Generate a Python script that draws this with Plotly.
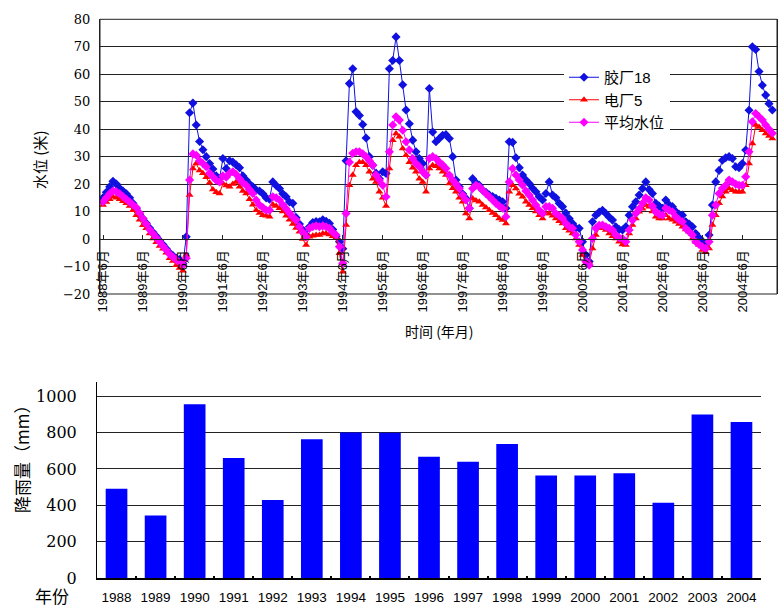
import plotly.graph_objects as go

W, H = 779, 608

# ---------------- data ----------------
# monthly water levels starting 1988-06 (index 0)
jiaochang18 = [
    15.0, 17, 19, 21, 20, 18.5, 17.5, 16.5, 15, 13, 11, 9,
    7.5, 5.8, 4, 2.5, 1, -0.5, -2, -3.5, -5, -6, -7, -7.5,
    -9, 0.8, 46, 49.5, 41.5, 35.5, 32.5, 30, 27.5, 25.5, 23, 22,
    29.3, 25.7, 28.5, 28, 27, 26, 23, 21.5, 20, 19, 17.8, 17.5,
    16.5, 15, 14.5, 20.8, 19.5, 18.4, 16.5, 15.4, 13.5, 13, 7.8, 5.5,
    3.4, 1.5, 4.5, 6, 6.4, 6.3, 7, 6.5, 5.7, 3.5, 1, -1,
    -3.5, 28.5, 56.6, 62, 46.3, 45, 41.7, 36.8, 30, 26.9, 24, 22,
    24.5, 23.9, 62, 65, 73.6, 65, 56.2, 47, 42, 36, 31.8, 29.3,
    27.5, 23.3, 54.8, 39, 35.4, 36.6, 37.8, 38, 36.6, 30, 21.5, 19,
    16.5, 14.8, 11.2, 22, 20.5, 19.6, 17.8, 17, 16, 15.5, 14.8, 14.2,
    13.6, 11.2, 35.4, 35.2, 29.6, 26, 23.3, 21.5, 20.2, 18.5, 17.2, 15.4,
    14.2, 16.6, 20.8, 16, 15, 13, 11.8, 9.5, 7.5, 5.7, 4, 3.9,
    -1, -5.8, -8.2, 6.3, 8.7, 9.8, 10.5, 9.3, 8, 6.9, 4.5, 3.5,
    3.3, 4.5, 8.7, 11.8, 13.6, 16, 18.4, 20.8, 18, 16.6, 13, 12,
    11.2, 14.2, 12.5, 11.8, 10, 9, 8.7, 6.3, 5.5, 4.5, 2, 0.5,
    -0.8, -2.5, 1.5, 12.4, 20.8, 25, 28.7, 29.6, 30, 29.3, 26.3, 26,
    27.5, 32.4, 46.9, 70, 69, 61, 56, 52.4, 49.3, 47,
]
dianchang5 = [
    12.4, 13.5, 14.5, 15.4, 15, 14.5, 13.8, 13, 12, 10.5, 8.7, 7,
    5, 3.9, 2, 0.2, -1.2, -2.5, -3.5, -5, -7, -8, -9.5, -10.5,
    -11.5, -5.8, 16, 25.7, 27.5, 25, 24, 22.5, 20.5, 18, 17, 16.6,
    20.2, 19.5, 19, 20, 20.8, 19, 17.5, 16.6, 14.5, 12.5, 10.5, 9.5,
    8.7, 8.5, 8.1, 12.6, 12, 11.2, 10, 8.5, 7, 5.5, 4, 2.7,
    0, -2.2, 0.8, 1.2, 1.5, 1.5, 2, 2, 1.7, 1, 0.5, -5.2,
    -11.9, 5.1, 19.6, 23.3, 26.9, 28, 28, 26.9, 24.5, 22, 20.8, 17.2,
    15, 12, 25.7, 36, 38.4, 37.2, 33, 30.5, 28, 26, 24.5, 22,
    20.8, 17.2, 25.7, 26.9, 26.5, 25.7, 24.5, 23.3, 20.2, 18.5, 17.2, 15,
    13.6, 9.3, 7.5, 14.8, 14, 13.6, 12.4, 11.5, 10.5, 9.5, 8.7, 7.5,
    6.9, 5.7, 17.2, 19.6, 18.4, 16.5, 15.4, 13.6, 12.4, 11.2, 10, 8.7,
    7.5, 9.3, 9.3, 8.5, 7.5, 6.5, 5.7, 3.9, 3, 2, 0.2, -2.2,
    -5.8, -8.8, -8.5, -3.4, 1.5, 3.9, 3.9, 3.3, 2, 1, 0.2, -1,
    -2, -2.2, 2, 5.1, 7.5, 9.9, 11, 12.4, 11.8, 10, 8.1, 7.5,
    7.5, 8.7, 7.5, 7, 6.3, 5.5, 4.5, 3.5, 2.7, 0.2, -1, -2.2,
    -4, -4.8, -3.4, 5.1, 8.7, 13, 15.5, 17.2, 18.4, 17.8, 17.2, 17.2,
    17.2, 19.6, 27.5, 34.8, 41.5, 40.8, 39.6, 38.4, 37.5, 36.6,
]
pingjun = [
    13.6, 15, 16.5, 17.5, 17.2, 16.5, 15.5, 14.5, 13.5, 12.5, 11.5, 9.5,
    7.5, 5.5, 3.5, 2, 0.5, -1, -2.5, -4, -5.5, -6.5, -7.5, -8.5,
    -9.5, -7, 21.5, 31, 30.5, 28.5, 27.5, 26.3, 24, 22.7, 21.4, 20.8,
    23, 22.5, 24, 24.5, 23.5, 22, 20.5, 19.6, 18, 16.6, 14.2, 12.4,
    11.5, 10.5, 10.5, 15.4, 15, 14.2, 12.5, 11, 9.5, 8, 6.9, 4.5,
    2.5, 0.8, 3.9, 4.5, 4.8, 4.5, 4.8, 4.5, 3.9, 2.5, 1.5, -2.8,
    -8.8, 9.3, 28, 31.2, 31.8, 31.8, 31, 30, 28.5, 26.9, 23.3, 21.5,
    19.6, 15.4, 31.8, 41.5, 44.5, 43.3, 39.6, 35.4, 32.4, 29.3, 27.5, 26.3,
    24.5, 23.3, 29.3, 30, 29.3, 28, 27, 25.7, 23.3, 21.5, 20, 18.4,
    16, 14.2, 11.2, 18.4, 19.6, 19, 17.8, 16.5, 15.4, 14.2, 13, 12,
    11.2, 8.1, 20.8, 25.7, 23.3, 21.5, 19.6, 17.5, 16, 14.2, 12.4, 10.5,
    9.3, 11.8, 11.8, 11.2, 9.3, 8.5, 7.5, 5.7, 4.5, 3.9, 1.5, -1,
    -4, -8.2, -9.5, 0.2, 3.9, 5, 5.1, 4.5, 3.9, 3.3, 1.5, 0.5,
    0.2, -1, 3.3, 6.9, 9.3, 11, 13, 15, 14.2, 12, 9.9, 9,
    8.7, 11.2, 10.5, 9.9, 8.1, 7, 6.3, 3.9, 2.7, 1.5, -1, -2,
    -2.8, -3.4, -1, 8.7, 12.4, 16.6, 18.5, 19.6, 21.5, 20.8, 20, 19.6,
    19.6, 22.7, 31.8, 42.7, 45.7, 44.5, 43.3, 41.5, 40, 38.5,
]
tick_labels = ["1988年6月", "1989年6月", "1990年6月", "1991年6月", "1992年6月",
               "1993年6月", "1994年6月", "1995年6月", "1996年6月", "1997年6月",
               "1998年6月", "1999年6月", "2000年6月", "2001年6月", "2002年6月",
               "2003年6月", "2004年6月"]

years = ["1988", "1989", "1990", "1991", "1992", "1993", "1994", "1995", "1996",
         "1997", "1998", "1999", "2000", "2001", "2002", "2003", "2004"]
rainfall = [492, 345, 955, 660, 429, 763, 800, 798, 667, 640, 737, 564, 564,
            577, 414, 899, 857]

# month category labels (1988年6月, 1988年7月, ...)
n = len(jiaochang18)
months = [f"{1988 + (5 + k) // 12}年{(5 + k) % 12 + 1}月" for k in range(n)]

# ---------------- layout helpers ----------------
def px_x(p):
    return p / W

def px_y(p):
    return 1 - p / H

top_dom = [px_y(294), px_y(19.3)]
zero_pos = top_dom[0] + 0.2 * (top_dom[1] - top_dom[0])
bot_dom = [px_y(578.3), px_y(382)]

CJK = "Noto Sans CJK SC"
GRID = "#222222"

fig = go.Figure()

fig.add_trace(go.Scatter(
    x=months, y=jiaochang18, name="胶厂18", mode="lines+markers",
    line=dict(color="#1010e0", width=1),
    marker=dict(symbol="diamond", size=7, color="#1010e0"),
    xaxis="x", yaxis="y"))
fig.add_trace(go.Scatter(
    x=months, y=dianchang5, name="电厂5", mode="lines+markers",
    line=dict(color="#ff0000", width=1),
    marker=dict(symbol="triangle-up", size=7, color="#ff0000"),
    xaxis="x", yaxis="y"))
fig.add_trace(go.Scatter(
    x=months, y=pingjun, name="平均水位", mode="lines+markers",
    line=dict(color="#ff00ff", width=1),
    marker=dict(symbol="diamond", size=7, color="#ff00ff"),
    xaxis="x", yaxis="y"))

fig.add_trace(go.Bar(
    x=years, y=rainfall, marker=dict(color="#0000ff", line=dict(width=0)),
    showlegend=False, xaxis="x2", yaxis="y2"))

fig.update_layout(
    width=W, height=H,
    margin=dict(l=0, r=0, t=0, b=0),
    paper_bgcolor="white", plot_bgcolor="white",
    font=dict(family=f"Liberation Sans, {CJK}", color="black"),
    bargap=0.445,
    xaxis=dict(
        domain=[px_x(100), px_x(777)], anchor="free", position=zero_pos,
        type="category", range=[-0.9, 202.4],
        tickmode="array", tickvals=tick_labels, ticktext=tick_labels,
        tickangle=-90, tickfont=dict(size=13, family=f"Liberation Sans, {CJK}"),
        ticks="inside", ticklen=4, tickcolor=GRID,
        showline=True, linecolor=GRID, linewidth=1,
        showgrid=False, zeroline=False, automargin=False,
        ticklabelstandoff=5,
    ),
    yaxis=dict(
        domain=top_dom, anchor="x", range=[-20, 80], dtick=10, tick0=0,
        showgrid=True, gridcolor=GRID, gridwidth=1,
        showline=True, linecolor=GRID, mirror=True,
        zeroline=False, ticks="", automargin=False,
        tickfont=dict(size=13, family="DejaVu Serif"),
        ticklabelstandoff=6,
    ),
    xaxis2=dict(
        domain=[px_x(97), px_x(761)], anchor="y2", type="category",
        range=[-0.5, 16.5], tickangle=0,
        tickfont=dict(size=13.5, family="Liberation Sans"),
        showline=True, linecolor="black", linewidth=1.5,
        ticks="inside", tickson="boundaries", ticklen=3, tickwidth=2,
        tickcolor="black", showgrid=False, automargin=False,
        ticklabelstandoff=6,
    ),
    yaxis2=dict(
        domain=bot_dom, anchor="x2", range=[0, 1077], dtick=200, tick0=0,
        showgrid=True, gridcolor=GRID, gridwidth=1,
        showline=True, linecolor="black", linewidth=1,
        zeroline=False, ticks="", automargin=False,
        tickfont=dict(size=16, family="DejaVu Serif"),
        ticklabelstandoff=16,
    ),
    legend=dict(
        x=px_x(564), y=px_y(61), xanchor="left", yanchor="top",
        bgcolor="white", borderwidth=0,
        font=dict(size=15, family=f"Liberation Sans, {CJK}"),
        tracegroupgap=0, itemwidth=30,
    ),
    shapes=[dict(type="rect", xref="x domain", yref="y domain",
                 x0=0, x1=1, y0=0, y1=1, line=dict(color=GRID, width=1),
                 layer="above")],
    annotations=[
        dict(text="水位 (米)", x=px_x(40), y=px_y(160), xref="paper", yref="paper",
             xanchor="center", yanchor="middle",
             textangle=-90, showarrow=False, font=dict(size=15, family=CJK)),
        dict(text="时间 (年月)", x=px_x(440), y=px_y(331), xref="paper", yref="paper",
             xanchor="center", yanchor="middle",
             showarrow=False, font=dict(size=14, family=CJK)),
        dict(text="降雨量（mm）", x=px_x(21), y=px_y(455), xref="paper", yref="paper",
             xanchor="center", yanchor="middle",
             textangle=-90, showarrow=False, font=dict(size=17, family=CJK)),
        dict(text="年份", x=px_x(52), y=px_y(595), xref="paper", yref="paper",
             xanchor="center", yanchor="middle",
             showarrow=False, font=dict(size=17, family=CJK)),
    ],
)

fig.write_html("out.html")
